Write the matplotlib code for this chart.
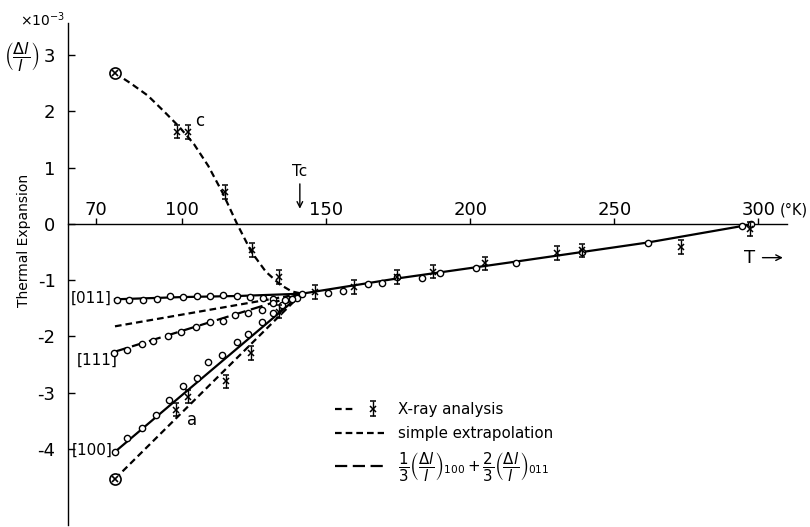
import matplotlib.pyplot as plt
from matplotlib.lines import Line2D
from matplotlib.legend_handler import HandlerTuple

# Thermal expansion (x10^-3) vs temperature (K)

# [011] measured points and the drawn curve
t_011 = [77.3, 81.5, 86.3, 91.2, 95.7, 100.2, 105.1, 109.6, 114.1, 119.0, 123.5, 128.0, 131.5, 136.3, 139.8]
d_011 = [-1.35, -1.35, -1.35, -1.34, -1.28, -1.30, -1.28, -1.28, -1.26, -1.28, -1.30, -1.31, -1.33, -1.33, -1.31]
t_011_line = [76.6, 100, 120, 141.5]
d_011_line = [-1.34, -1.30, -1.28, -1.24]

# [111] measured points and 1/3(100)+2/3(011) line
t_111 = [76.3, 80.8, 86.0, 89.8, 95.0, 99.5, 104.7, 109.6, 114.1, 118.3, 122.8, 127.6, 131.5, 135.5]
d_111 = [-2.29, -2.24, -2.13, -2.08, -1.99, -1.92, -1.83, -1.74, -1.72, -1.62, -1.58, -1.53, -1.40, -1.36]
t_calc = [76.6, 141.5]
d_calc = [-2.27, -1.24]

# [100] measured points and line
t_100 = [76.6, 80.8, 86.0, 90.8, 95.3, 100.2, 105.0, 108.9, 113.8, 119.0, 122.8, 127.6, 131.5, 134.6, 138.0]
d_100 = [-4.05, -3.80, -3.62, -3.39, -3.13, -2.88, -2.74, -2.45, -2.33, -2.10, -1.95, -1.74, -1.58, -1.44, -1.33]
t_100_line = [76.6, 141.5]
d_100_line = [-4.05, -1.24]

# above Tc (common curve)
t_high = [141.5, 150.6, 155.8, 164.4, 169.3, 174.5, 183.2, 189.4, 201.9, 215.8, 238.8, 261.7, 294.5, 297.5]
d_high = [-1.24, -1.23, -1.19, -1.07, -1.05, -0.94, -0.96, -0.87, -0.79, -0.69, -0.50, -0.34, -0.03, -0.01]
t_high_line = [141.5, 174.5, 215.8, 261.7, 297.5]
d_high_line = [-1.24, -0.97, -0.67, -0.33, -0.01]

# simple extrapolation of [011]
t_simple = [76.6, 141.5]
d_simple = [-1.82, -1.24]

# extrapolated axes c and a
t_c = [76.6, 82, 88, 94, 99, 104, 109, 114, 119, 124, 129, 134, 138, 141.5]
d_c = [2.68, 2.50, 2.28, 1.98, 1.72, 1.42, 1.03, 0.55, 0.0, -0.50, -0.85, -1.08, -1.20, -1.24]
t_a = [76.6, 141.5]
d_a = [-4.53, -1.24]
t_start = [76.6, 76.6]
d_start = [2.68, -4.53]

# X-ray analysis
t_xray = [98.1, 102.0, 114.8, 124.2, 133.5, 97.7, 101.9, 115.0, 123.8, 133.5,
          146.0, 159.6, 174.5, 187.0, 205.1, 230.0, 238.8, 273.0, 297.0]
d_xray = [1.64, 1.63, 0.57, -0.46, -0.94, -3.30, -3.07, -2.80, -2.29, -1.56,
          -1.21, -1.12, -0.94, -0.85, -0.70, -0.52, -0.47, -0.41, -0.09]
err_xray = 0.12

xticks = [70, 100, 150, 200, 250, 300]
yticks = [-4, -3, -2, -1, 0, 1, 2, 3]

fig = plt.figure(figsize=(8.1, 5.27), dpi=100)
ax = fig.add_axes([0.084, 0.0038, 0.8877, 0.9526])
ax.set_xlim(60.3, 310)
ax.set_ylim(-5.35, 3.57)

lw = 1.6
short = (0, (3.0, 1.8))
long_ = (0, (5.5, 2.5))
circ = dict(marker='o', ms=4.5, mfc='white', mec='black', mew=1.0, ls='none', zorder=4)

ax.plot(t_011_line, d_011_line, color='black', lw=lw)
ax.plot(t_011, d_011, **circ)
ax.plot(t_100_line, d_100_line, color='black', lw=lw)
ax.plot(t_100, d_100, **circ)
calc_line, = ax.plot(t_calc, d_calc, color='black', lw=lw, ls=long_)
ax.plot(t_111, d_111, **circ)
ax.plot(t_high_line, d_high_line, color='black', lw=lw)
ax.plot(t_high, d_high, **circ)
simple_line, = ax.plot(t_simple, d_simple, color='black', lw=lw, ls=short)
ax.plot(t_c, d_c, color='black', lw=lw, ls=short)
ax.plot(t_a, d_a, color='black', lw=lw, ls=short)
ax.plot(t_start, d_start, marker='o', ms=8, mfc='white', mec='black', mew=1.2, ls='none', zorder=5)
ax.plot(t_start, d_start, marker='x', ms=5, color='black', mew=1.2, ls='none', zorder=6)

xr = ax.errorbar(t_xray, d_xray, yerr=err_xray, fmt='x', color='black', ms=4.5, mew=1.1,
                 elinewidth=1.0, capsize=2.5, capthick=1.0, zorder=5)

# axes
for s in ['top', 'right']:
    ax.spines[s].set_visible(False)
ax.spines['bottom'].set_position(('data', 0))
ax.spines['left'].set_linewidth(1.0)
ax.spines['bottom'].set_linewidth(1.0)
ax.set_xticks(xticks)
ax.set_xticklabels([])
ax.tick_params(axis='x', direction='in', length=4, width=1)
ax.set_yticks(yticks)
ax.set_yticklabels([str(v) for v in yticks], fontsize=13)
ax.tick_params(axis='y', direction='in', length=5, width=1, pad=9)

for v in xticks:
    ax.text(v, 0.25, str(v), ha='center', va='center', fontsize=13)
ax.text(307.6, 0.25, '(°K)', ha='left', va='center', fontsize=10.5, clip_on=False)

# annotations
ax.text(75.5, -1.33, '[011]', ha='right', va='center', fontsize=11)
ax.text(63.3, -2.42, '[111]', ha='left', va='center', fontsize=11)
ax.text(75.8, -4.03, '[100]', ha='right', va='center', fontsize=11)
ax.text(106, 1.82, 'c', ha='center', va='center', fontsize=12)
ax.text(103.5, -3.48, 'a', ha='center', va='center', fontsize=12)
ax.text(140.8, 0.93, 'Tc', ha='center', va='center', fontsize=11)
ax.annotate('', xy=(140.8, 0.22), xytext=(140.8, 0.76),
            arrowprops=dict(arrowstyle='->', color='black', lw=1.0))
ax.text(297, -0.6, 'T', ha='center', va='center', fontsize=13)
ax.annotate('', xy=(309.5, -0.6), xytext=(300.5, -0.6),
            arrowprops=dict(arrowstyle='->', color='black', lw=1.0), annotation_clip=False)

fig.text(0.030, 1 - 240 / 527, 'Thermal Expansion', rotation=90, ha='center', va='center', fontsize=10)
fig.text(0.027, 1 - 57 / 527, r'$\left(\dfrac{\Delta l}{l}\right)$', ha='center', va='center', fontsize=11.5)
fig.text(0.052, 1 - 20 / 527, r'$\times10^{-3}$', ha='center', va='center', fontsize=10)

xr_handle = (Line2D([], [], color='black', lw=lw, ls=short), xr)
formula = r'$\dfrac{1}{3}\left(\dfrac{\Delta l}{l}\right)_{100}+\dfrac{2}{3}\left(\dfrac{\Delta l}{l}\right)_{011}$'
ax.legend([xr_handle, simple_line, calc_line], ['X-ray analysis', 'simple extrapolation', formula],
          handler_map={tuple: HandlerTuple(ndivide=None)},
          loc='upper left', bbox_to_anchor=(0.352, 0.272), frameon=False, fontsize=10.8,
          handlelength=3.3, labelspacing=0.6, handletextpad=0.9)

fig.savefig('out.png', dpi=100)
